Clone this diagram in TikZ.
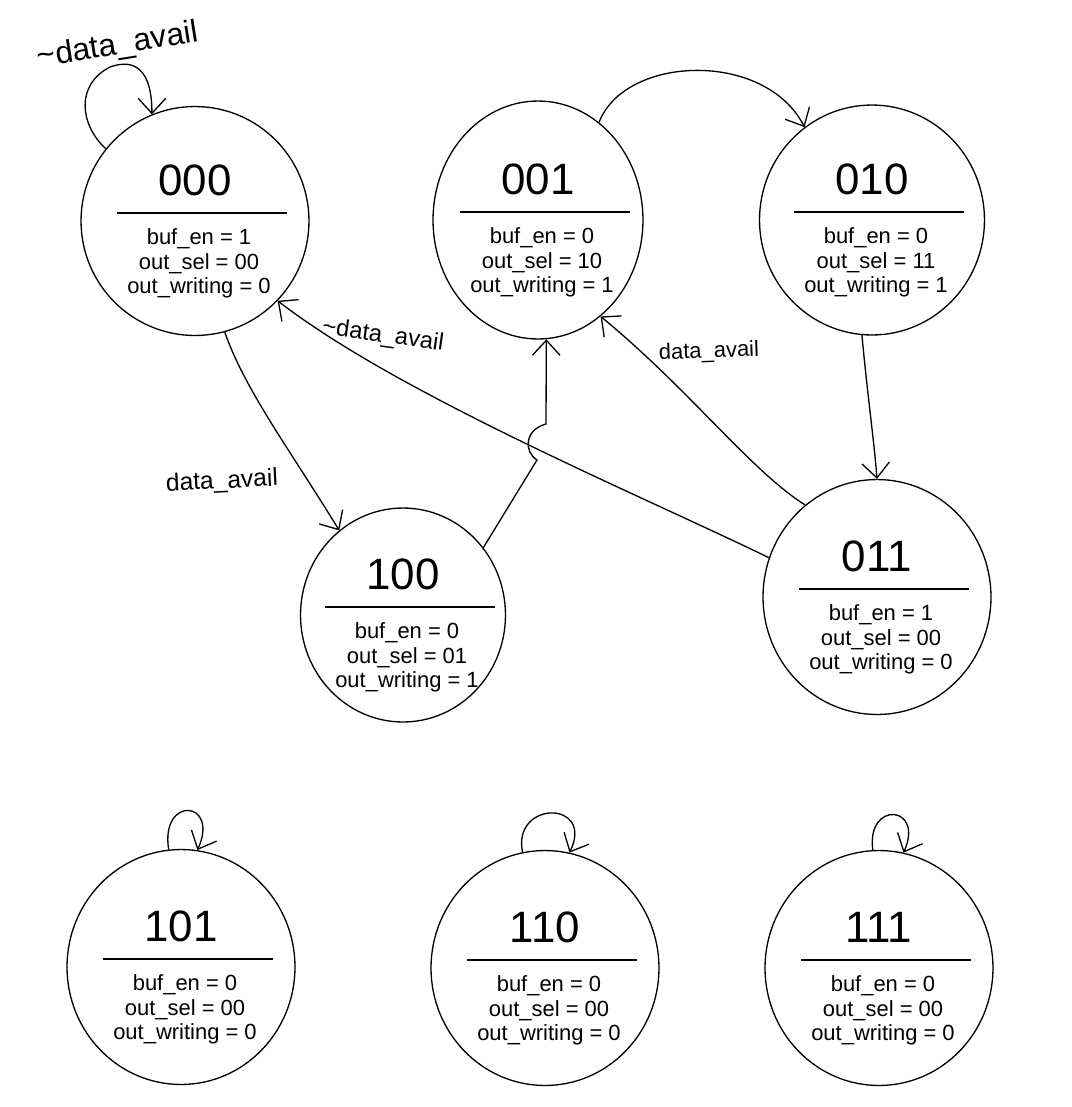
\documentclass[tikz,border=0pt]{standalone}
\usepackage{fontspec}
\setmainfont{Liberation Sans}
\usetikzlibrary{shapes.geometric}
\usetikzlibrary{arrows.meta}

\begin{document}
\begin{tikzpicture}[x=0.02cm, y=-0.02cm, line width=0.75pt]

\useasboundingbox (0,0) rectangle (1072,1107);

\def\StateW{4.56cm}
\def\StateH{4.7cm}
\def\CodeUp{-41}
\def\RuleUp{-8}

% Styles
\tikzstyle{state} =
	[draw, ellipse, inner sep=0pt, minimum width=\StateW, minimum height=\StateH]

\tikzstyle{code} =
	[font=\fontsize{25}{30}\selectfont]

\tikzstyle{fields} =
	[font=\fontsize{12.5}{14}\selectfont, align=center, inner sep=0pt, anchor=north]

\tikzstyle{data text} =
	[font=\fontsize{14}{16}\selectfont]

\tikzstyle{barb} =
	[-{Straight Barb[length=3mm, width=5.5mm]}]

% one state: name, position, size, code, buf_en, out_sel, out_writing
\def\State#1#2#3#4#5#6#7{
	\node (#1) at (#2) [state, #3] {};
	\path (#1.center) + (0, \CodeUp) node (#1Code) [code] {#4};
	\draw (#1.center) + (-78, \RuleUp) -- + (92, \RuleUp);
	\path (#1.center) + (4, 7)
		node (#1Fields) [fields] {buf\_en = #5\\out\_sel = #6\\out\_writing = #7};
}

% States
\State{S000}{195,221}{minimum height=4.58cm}{000}{1}{00}{0}
\State{S001}{538,220}{minimum width=4.2cm, minimum height=4.76cm}{001}{0}{10}{1}
\State{S010}{872,220}{minimum width=4.5cm, minimum height=4.6cm}{010}{0}{11}{1}
\State{S100}{403,615}{minimum width=4.1cm, minimum height=4.28cm}{100}{0}{01}{1}
\State{S011}{877,597}{}{011}{1}{00}{0}
\State{S101}{181,967}{}{101}{0}{00}{0}
\State{S110}{545,968}{}{110}{0}{00}{0}
\State{S111}{879,968}{}{111}{0}{00}{0}

% Edges
\draw[barb] (S000.141) .. controls (80,125) and (75,85) .. (110,67)
	.. controls (135,58) and (152,70) .. (S000.112);
\node (IdleLabel) at (118,46) [data text, font=\fontsize{18}{20}\selectfont, rotate=9]
	{\textasciitilde data\_avail};

\draw[barb] (S000.-75) .. controls (245,390) and (290,450) .. (S100.127);
\node (StartLabel) at (222,482) [data text, rotate=3] {data\_avail};

\draw[barb] (S100.40) -- (537,460) .. controls (524,452) and (524,430) .. (546,424)
	-- (S001.-86);

\draw[barb] (S001.58) .. controls (625,55) and (765,50) .. (S010.126);

\draw[barb] (S010.-95) .. controls (868,400) and (874,440) .. (S011.north);

\draw[barb] (S011.128) .. controls (750,470) and (690,390) .. (S001.-57);
\node (AgainLabel) at (709,352) [data text, font=\fontsize{12.5}{14}\selectfont, rotate=2]
	{data\_avail};

\draw[barb] (S011.160) .. controls (640,495) and (400,395) .. (S000.-44);
\node (BackLabel) at (383,336) [data text, font=\fontsize{13.5}{15}\selectfont, rotate=-8]
	{\textasciitilde data\_avail};

\draw[barb] (S101.96) .. controls (160,795) and (220,800) .. (S101.82);
\draw[barb] (S110.101) .. controls (512,800) and (595,800) .. (S110.78);
\draw[barb] (S111.93) .. controls (866,800) and (925,805) .. (S111.78);

\end{tikzpicture}
\end{document}
